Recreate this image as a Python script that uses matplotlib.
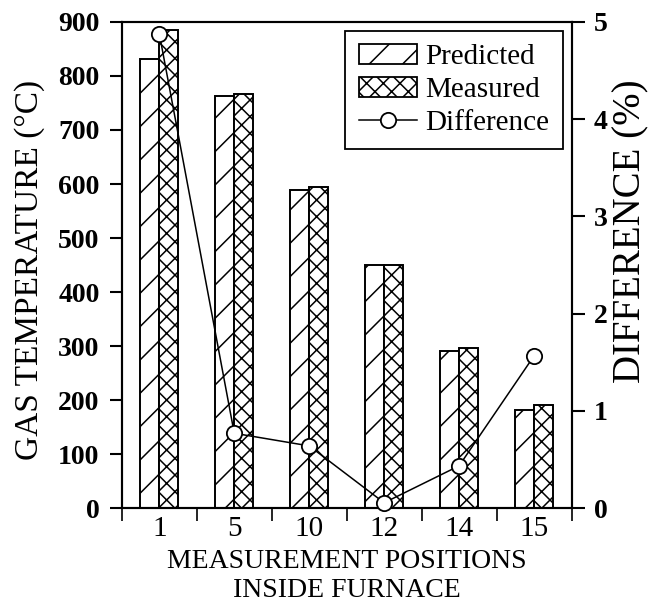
import numpy as np
from matplotlib import pyplot as plt
from matplotlib.lines import Line2D
from matplotlib.patches import Patch

positions = ['1', '5', '10', '12', '14', '15']
predicted = [832, 763, 589, 450, 291, 181]
measured = [886, 767, 595, 450, 297, 191]
difference = [4.88, 0.77, 0.64, 0.055, 0.435, 1.566]

plt.rcParams['font.family'] = ['Liberation Serif', 'DejaVu Serif']
plt.rcParams['hatch.linewidth'] = 1.1
plt.rcParams['axes.linewidth'] = 1.5

fig = plt.figure(figsize=(6.48, 6.10), dpi=100)
ax = fig.add_axes([0.188, 0.167, 0.694, 0.797])
ax2 = ax.twinx()

x = np.arange(len(positions))
w = 0.255
ax.bar(x - w / 2, predicted, w, color='white', edgecolor='black',
       hatch='/', linewidth=1.4)
ax.bar(x + w / 2, measured, w, color='white', edgecolor='black',
       hatch='xx', linewidth=1.4)

ax2.plot(x, difference, color='black', linewidth=1.1, marker='o',
         markersize=11, markerfacecolor='white', markeredgecolor='black',
         markeredgewidth=1.3, clip_on=False, zorder=5)

ax.set_xlim(-0.5, len(positions) - 0.5)
ax.set_ylim(0, 900)
ax2.set_ylim(0, 5)

ax.set_yticks(range(0, 901, 100))
ax2.set_yticks(range(0, 6))
ax.set_xticks(x)
ax.set_xticklabels(positions)
ax.set_xticks(np.arange(-0.5, len(positions)), minor=True)
ax.tick_params(axis='x', which='major', length=0, labelsize=21, pad=6)
ax.tick_params(axis='x', which='minor', direction='out', length=9, width=1.2)
ax.tick_params(axis='y', direction='out', length=9, width=1.5, labelsize=20, pad=7)
ax2.tick_params(axis='y', direction='out', length=9, width=1.5, labelsize=20, pad=7)
for lab in ax.get_yticklabels() + ax2.get_yticklabels():
    lab.set_fontweight('bold')

ax.set_xlabel('MEASUREMENT POSITIONS\nINSIDE FURNACE', fontsize=20,
              linespacing=1.2, labelpad=5)
ax.set_ylabel('GAS TEMPERATURE (°C)', fontsize=24)
ax.yaxis.set_label_coords(-0.17, 0.49)
ax2.set_ylabel('DIFFERENCE (%)', fontsize=28)
ax2.yaxis.set_label_coords(1.09, 0.57)

handles = [
    Patch(facecolor='white', edgecolor='black', hatch='/', linewidth=1.3),
    Patch(facecolor='white', edgecolor='black', hatch='xx', linewidth=1.3),
    Line2D([], [], color='black', linewidth=1.1, marker='o', markersize=11,
           markerfacecolor='white', markeredgecolor='black', markeredgewidth=1.3),
]
leg = ax2.legend(handles, ['Predicted', 'Measured', 'Difference'],
                 loc='upper right', fontsize=21, frameon=True, fancybox=False,
                 edgecolor='black', framealpha=1, borderpad=0.45,
                 labelspacing=0.22, handlelength=2.0, handletextpad=0.3,
                 borderaxespad=0.3)
leg.get_frame().set_linewidth(1.3)

fig.savefig('out.png', dpi=100)
